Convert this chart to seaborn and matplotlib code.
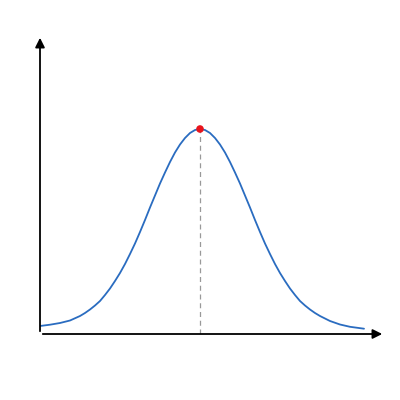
import matplotlib
matplotlib.use("Agg")
import matplotlib.pyplot as plt
import pandas as pd
import seaborn as sns

# values (x centred on the peak, y = height above the axis)
x_vals = [-160, -150, -140, -130, -120, -115, -110, -105, -100, -95, -90, -85, -80, -75,
          -70, -65, -60, -55, -50, -45, -40, -35, -30, -25, -20, -15, -10, -5,
          0, 5, 10, 15, 20, 25, 30, 35, 40, 45, 50, 55, 60, 65, 70, 75, 80, 85,
          90, 95, 100, 105, 110, 115, 120, 130, 140, 150, 164]
y_vals = [8, 9.3, 11, 13.5, 18, 21, 24.5, 28.5, 33, 39, 45.5, 53, 61, 70,
          80, 90.5, 102, 114, 126.5, 138.5, 150.5, 161.5, 172, 181.5, 189.5, 196, 201, 204,
          205, 204, 201, 196, 189.5, 181.5, 172, 161.5, 150.5, 138.5, 126.5, 114, 102, 90.5, 80, 70, 61, 53,
          45.5, 39, 33, 28.5, 24.5, 21, 18, 13, 9.5, 7.2, 5.3]
peak_x = 0
peak_y = 205

sns.set_style("white")

df = pd.DataFrame({"x": x_vals, "y": y_vals})

fig = plt.figure(figsize=(4, 4), dpi=100)
ax = fig.add_axes([0.1, 0.165, 0.8625, 0.7475])

sns.lineplot(data=df, x="x", y="y", ax=ax, color="#2a6cc0", linewidth=1.3)
ax.plot([peak_x, peak_x], [0, peak_y], color="#999999", linestyle=(0, (4, 3)), linewidth=0.9)
sns.scatterplot(x=[peak_x], y=[peak_y], ax=ax, color="#e8141c", s=30, edgecolor="none", zorder=5)

ax.set_xlim(-160, 185)
ax.set_ylim(0, 299)

# arrow axes
ax.annotate("", xy=(185, 0), xytext=(-160, 0), annotation_clip=False,
            arrowprops=dict(arrowstyle="-|>", color="black", lw=1.3, mutation_scale=14))
ax.annotate("", xy=(-160, 299), xytext=(-160, 0), annotation_clip=False,
            arrowprops=dict(arrowstyle="-|>", color="black", lw=1.3, mutation_scale=14))

for s in ax.spines.values():
    s.set_visible(False)
ax.set_xticks([])
ax.set_yticks([])
ax.set_xlabel("")
ax.set_ylabel("")

fig.savefig("out.png", dpi=100, facecolor="white")
